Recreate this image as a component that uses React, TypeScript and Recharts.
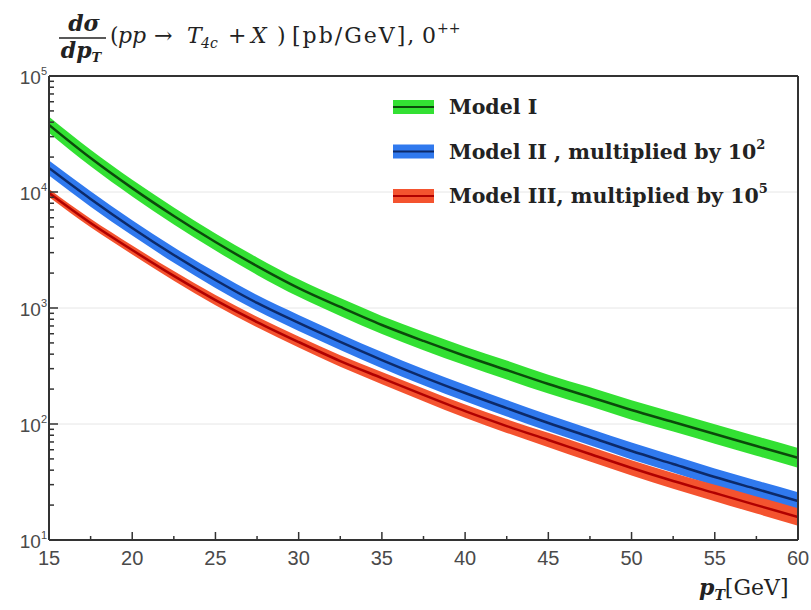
import { Area, CartesianGrid, ComposedChart, Line, ReferenceLine, XAxis, YAxis } from "recharts";

const pT = [15, 17.5, 20, 22.5, 25, 27.5, 30, 32.5, 35, 37.5, 40, 42.5, 45, 47.5, 50, 52.5, 55, 57.5, 60];

// Model I
const model1Mid = [37900, 19630, 10800, 6210, 3705, 2300, 1486, 1021, 714, 520, 386, 292, 221, 171, 132, 104, 82, 64.6, 51];
const model1Lo = [32300, 16660, 9150, 5250, 3125, 1930, 1248, 855, 596, 433, 321, 242, 183, 142, 109, 86, 67.6, 53.3, 42];
const model1Hi = [44500, 23120, 12740, 7350, 4390, 2730, 1770, 1219, 855, 624, 464, 352, 266, 207, 160, 126, 99.5, 78.4, 62];

// Model II, x 10^2
const model2Mid = [16100, 8710, 4900, 2865, 1743, 1105, 743, 510, 356, 254, 185, 137, 102, 77.3, 58.5, 45.2, 34.9, 27.5, 21.7];
const model2Lo = [13870, 7480, 4210, 2455, 1491, 945, 634, 435, 303, 216, 157, 116, 86.4, 65.5, 49.5, 38.2, 29.4, 23.2, 18.3];
const model2Hi = [18700, 10140, 5700, 3340, 2040, 1292, 871, 598, 418, 298, 218, 161, 120, 91.2, 69.2, 53.5, 41.4, 32.6, 25.8];

// Model III, x 10^5
const model3Mid = [9800, 5400, 3160, 1890, 1170, 757, 509, 349, 249, 178, 129, 96, 72.8, 55.1, 41.8, 32.3, 25.4, 20.0, 15.8];
const model3Lo = [9040, 4960, 2890, 1720, 1057, 681, 456, 311, 220, 157, 113, 83.8, 63.1, 47.5, 35.9, 27.6, 21.6, 16.9, 13.3];
const model3Hi = [10620, 5880, 3460, 2080, 1295, 842, 569, 392, 281, 202, 147, 110, 83.9, 63.9, 48.7, 37.8, 29.9, 23.7, 18.8];

const xTicks = [15, 17.5, 20, 22.5, 25, 27.5, 30, 32.5, 35, 37.5, 40, 42.5, 45, 47.5, 50, 52.5, 55, 57.5, 60];
const yDecades = [10, 100, 1000, 10000];
const yTicks = [...yDecades.flatMap((d) => [1, 2, 3, 4, 5, 6, 7, 8, 9].map((k) => d * k)), 100000];
const xGrid = [20, 25, 30, 35, 40, 45, 50, 55];
const yGrid = [100, 1000, 10000];

const legendItems = [
  { label: "Model I", sup: "", band: "#33e033", line: "#0b4a0b" },
  { label: "Model II , multiplied by 10", sup: "2", band: "#3079ee", line: "#0c2a6a" },
  { label: "Model III, multiplied by 10", sup: "5", band: "#f4532f", line: "#b00000" },
];

const data = pT.map((x, i) => ({
  pT: x,
  m1: model1Mid[i],
  m1Band: [model1Lo[i], model1Hi[i]],
  m2: model2Mid[i],
  m2Band: [model2Lo[i], model2Hi[i]],
  m3: model3Mid[i],
  m3Band: [model3Lo[i], model3Hi[i]],
}));

const axisFont = "'Liberation Sans', Arial, sans-serif";
const mathFont = "'DejaVu Serif', 'Liberation Serif', serif";

function YTick(props: any) {
  const { x, y, payload } = props;
  const e = Math.log10(payload.value);
  const major = Math.abs(e - Math.round(e)) < 1e-6;
  return (
    <g>
      <line x1={x} x2={x + (major ? 9 : 5)} y1={y} y2={y} stroke="#333" strokeWidth={1.5} />
      {major && (
        <text x={x - 2} y={y + 8} textAnchor="end" fontSize={19} fill="#4a4a4a" fontFamily={axisFont}>
          10
          <tspan dy={-9} fontSize={11}>
            {Math.round(e)}
          </tspan>
        </text>
      )}
    </g>
  );
}

function XTick(props: any) {
  const { x, y, payload } = props;
  const major = payload.value % 5 === 0;
  return (
    <g>
      <line x1={x} x2={x} y1={y} y2={y - (major ? 8 : 4)} stroke="#333" strokeWidth={1.5} />
      {major && (
        <text x={x} y={y + 25} textAnchor="middle" fontSize={20} fill="#4a4a4a" fontFamily={axisFont}>
          {payload.value}
        </text>
      )}
    </g>
  );
}

export default function App() {
  return (
    <div style={{ position: "absolute", left: 0, top: 0, width: 811, height: 610, background: "#fff" }}>
      <ComposedChart
        width={811}
        height={610}
        data={data}
        margin={{ top: 76, right: 13, bottom: 40, left: 9 }}
      >
        <CartesianGrid stroke="#e6e6e6" xAxisId="grid" yAxisId="grid" />
        <XAxis xAxisId="grid" type="number" domain={[15, 60]} ticks={xGrid} hide allowDataOverflow />
        <YAxis yAxisId="grid" scale="log" domain={[10, 100000]} ticks={yGrid} hide allowDataOverflow />
        <XAxis
          dataKey="pT"
          type="number"
          domain={[15, 60]}
          ticks={xTicks}
          interval={0}
          height={30}
          tickSize={0}
          tickMargin={0}
          tick={<XTick />}
          axisLine={{ stroke: "#333", strokeWidth: 2 }}
          allowDataOverflow
        />
        <YAxis
          scale="log"
          domain={[10, 100000]}
          ticks={yTicks}
          interval={0}
          width={40}
          tickSize={0}
          tickMargin={0}
          tick={<YTick />}
          axisLine={{ stroke: "#333", strokeWidth: 2 }}
          allowDataOverflow
        />
        <Area type="monotone" dataKey="m1Band" fill="#33e033" fillOpacity={1} stroke="none" isAnimationActive={false} />
        <Area type="monotone" dataKey="m2Band" fill="#3079ee" fillOpacity={1} stroke="none" isAnimationActive={false} />
        <Area type="monotone" dataKey="m3Band" fill="#f4532f" fillOpacity={1} stroke="none" isAnimationActive={false} />
        <Line type="monotone" dataKey="m1" stroke="#0b4a0b" strokeWidth={2.5} dot={false} isAnimationActive={false} />
        <Line type="monotone" dataKey="m2" stroke="#0c2a6a" strokeWidth={2.5} dot={false} isAnimationActive={false} />
        <Line type="monotone" dataKey="m3" stroke="#b00000" strokeWidth={2.5} dot={false} isAnimationActive={false} />
        <ReferenceLine y={100000} stroke="#333" strokeWidth={2} />
        <ReferenceLine x={60} stroke="#333" strokeWidth={2} />
      </ComposedChart>

      <svg width={811} height={610} style={{ position: "absolute", left: 0, top: 0, pointerEvents: "none" }}>
        {/* title */}
        <g fontFamily={mathFont} fill="#222" fontSize={22}>
          <text x={84} y={31} textAnchor="middle" fontStyle="italic" fontWeight="bold">
            dσ
          </text>
          <line x1={59} x2={106} y1={38} y2={38} stroke="#222" strokeWidth={1.3} />
          <text x={81} y={58} textAnchor="middle" fontStyle="italic" fontWeight="bold">
            dp
            <tspan fontSize={13} dy={4}>T</tspan>
          </text>
          <text x={110} y={43}>(</text>
          <text x={118} y={43} fontStyle="italic">pp</text>
          <text x={154} y={43}>→</text>
          <text x={187} y={43} fontStyle="italic">T</text>
          <text x={201} y={48} fontSize={14} fontStyle="italic">4c</text>
          <text x={228} y={43}>+</text>
          <text x={251} y={43} fontStyle="italic">X</text>
          <text x={277} y={43}>)</text>
          <text x={292} y={43} letterSpacing={2}>[pb/GeV],</text>
          <text x={422} y={43}>0</text>
          <text x={437} y={33} fontSize={14}>++</text>
        </g>

        {/* legend */}
        {legendItems.map((item, i) => {
          const cy = 107 + i * 44.5;
          return (
            <g key={item.label}>
              <rect x={393} y={cy - 7} width={41} height={14} fill={item.band} />
              <line x1={393} x2={434} y1={cy} y2={cy} stroke={item.line} strokeWidth={2} />
              <text x={449} y={cy + 7} fontSize={20.5} fontWeight="bold" fontFamily={mathFont} fill="#222">
                {item.label}
                {item.sup && (
                  <tspan fontSize={13} dy={-10}>
                    {item.sup}
                  </tspan>
                )}
              </text>
            </g>
          );
        })}

        {/* x-axis label */}
        <text x={699} y={595} fontFamily={mathFont} fontSize={22} fill="#222">
          <tspan fontStyle="italic" fontWeight="bold">p</tspan>
          <tspan fontSize={14} dy={5} fontStyle="italic" fontWeight="bold">T</tspan>
          <tspan dy={-5}>[GeV]</tspan>
        </text>
      </svg>
    </div>
  );
}
